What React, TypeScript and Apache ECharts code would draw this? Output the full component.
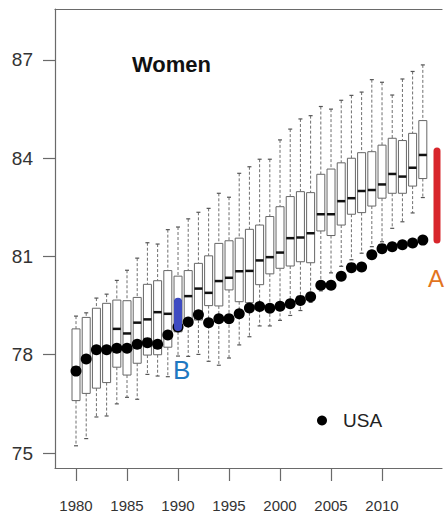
import React, { useEffect, useRef } from "react";
import * as echarts from "echarts";

// ---- data ----
const years = [
  1980, 1981, 1982, 1983, 1984, 1985, 1986, 1987, 1988, 1989,
  1990, 1991, 1992, 1993, 1994, 1995, 1996, 1997, 1998, 1999,
  2000, 2001, 2002, 2003, 2004, 2005, 2006, 2007, 2008, 2009,
  2010, 2011, 2012, 2013, 2014,
];
const whiskerLow = [
  75.22, 75.44, 76.1, 76.13, 76.5, 76.7, 76.64, 77.4, 77.35, 77.33,
  77.96, 77.95, 78.01, 77.8, 77.68, 77.9, 78.3, 78.55, 78.88, 78.88,
  79.05, 79.2, 79.35, 79.6, 79.95, 80.5, 80.7, 80.9, 81.1, 81.3,
  81.45, 81.86, 82.06, 82.33, 82.8,
];
const q1 = [
  76.6, 76.82, 76.98, 77.15, 77.62, 77.38, 77.74, 77.99, 78.0, 78.23,
  78.7, 78.91, 79.06, 79.5, 79.49, 79.98, 79.62, 79.59, 80.14, 80.47,
  80.64, 80.71, 80.84, 80.81, 81.78, 81.64, 81.96, 82.29, 82.34, 82.54,
  82.78, 82.93, 82.93, 83.15, 83.38,
];
const median = [
  77.6, 77.9, 78.12, 78.1, 78.79, 78.65, 78.98, 79.08, 79.3, 79.25,
  79.62, 79.79, 80.02, 79.89, 80.25, 80.35, 80.55, 80.56, 80.88, 80.98,
  81.12, 81.56, 81.58, 81.71, 82.29, 82.29, 82.69, 82.78, 83.0, 83.03,
  83.2, 83.52, 83.44, 83.71, 84.1,
];
const q3 = [
  78.79, 79.14, 79.42, 79.57, 79.67, 79.65, 79.75, 80.15, 80.26, 80.57,
  80.4, 80.57, 80.79, 81.02, 81.4, 81.48, 81.56, 81.83, 81.96, 82.22,
  82.52, 82.83, 82.98, 82.95, 83.51, 83.67, 83.86, 84.0, 84.17, 84.2,
  84.4, 84.61, 84.54, 84.76, 85.15,
];
const whiskerHigh = [
  79.18, 79.28, 79.73, 79.85, 80.27, 80.58, 80.95, 81.42, 81.38, 81.82,
  81.9, 82.15, 82.35, 82.47, 82.93, 82.81, 83.54, 83.74, 83.97, 83.97,
  84.56, 84.89, 85.2, 85.3, 85.58, 85.5, 85.77, 85.92, 86.02, 86.4,
  86.32, 85.93, 86.42, 86.65, 86.85,
];
const usa = [
  77.5, 77.87, 78.15, 78.15, 78.2, 78.2, 78.32, 78.37, 78.32, 78.6,
  78.85, 79.0, 79.22, 78.98, 79.1, 79.1, 79.25, 79.43, 79.47, 79.42,
  79.48, 79.56, 79.66, 79.77, 80.12, 80.12, 80.4, 80.66, 80.68, 81.05,
  81.24, 81.3, 81.36, 81.41, 81.5,
];
const yTicks = [75, 78, 81, 84, 87];
const xTicks = [1980, 1985, 1990, 1995, 2000, 2005, 2010];

// annotation gaps
const gapBYear = 1990;
const gapAYear = 2015.39;
const gapATop = 84.22;

const FONT = "'Liberation Sans', Arial, Helvetica, sans-serif";

export default function App() {
  const ref = useRef<HTMLDivElement>(null);

  useEffect(() => {
    const chart = echarts.init(ref.current!, null, { renderer: "svg" });
    const idxB = years.indexOf(gapBYear);
    const last = years.length - 1;

    const boxData = years.map((y, i) => [
      y, whiskerLow[i], q1[i], median[i], q3[i], whiskerHigh[i],
    ]);

    const option: any = {
      animation: false,
      backgroundColor: "#fff",
      textStyle: { fontFamily: FONT },
      title: {
        text: "Women",
        left: 127,
        top: 48,
        textStyle: { fontSize: 22, fontWeight: "bold", color: "#111", fontFamily: FONT },
      },
      legend: {
        data: ["USA"],
        left: 312,
        top: 406,
        icon: "circle",
        itemWidth: 10,
        itemHeight: 10,
        itemStyle: { color: "#000", opacity: 1 },
        textStyle: { fontSize: 19, color: "#222", fontFamily: FONT, padding: [0, 0, 0, 11] },
      },
      grid: { left: 55, right: 6, top: 9, bottom: 48, containLabel: false },
      xAxis: [
        {
          type: "value",
          min: 1977.94,
          max: 2015.88,
          splitLine: { show: false },
          axisLine: { show: true, lineStyle: { color: "#6a6a6a", width: 1.2 } },
          axisTick: { show: true, customValues: xTicks, length: 13, lineStyle: { color: "#6a6a6a", width: 1.2 } },
          axisLabel: {
            customValues: xTicks,
            margin: 30,
            fontSize: 15,
            color: "#333",
            fontFamily: FONT,
            formatter: (v: number) => String(Math.round(v)),
          },
        },
        {
          type: "value",
          position: "top",
          min: 1977.94,
          max: 2015.88,
          splitLine: { show: false },
          axisLine: { show: true, lineStyle: { color: "#6a6a6a", width: 1.2 } },
          axisTick: { show: false },
          axisLabel: { show: false },
        },
      ],
      yAxis: {
        type: "value",
        min: 74.542,
        max: 88.557,
        splitLine: { show: false },
        axisLine: { show: true, lineStyle: { color: "#6a6a6a", width: 1.2 } },
        axisTick: { show: true, customValues: yTicks, length: 12, lineStyle: { color: "#6a6a6a", width: 1.2 } },
        axisLabel: {
          customValues: yTicks,
          margin: 22,
          fontSize: 19,
          color: "#333",
          fontFamily: FONT,
          formatter: (v: number) => String(Math.round(v)),
        },
      },
      series: [
        {
          type: "custom",
          name: "countries",
          xAxisIndex: 0,
          yAxisIndex: 0,
          data: boxData,
          encode: { x: 0, y: [1, 2, 3, 4, 5] },
          z: 2,
          renderItem: (params: any, api: any) => {
            const x = api.value(0);
            const lo = api.coord([x, api.value(1)]);
            const b1 = api.coord([x, api.value(2)]);
            const md = api.coord([x, api.value(3)]);
            const b3 = api.coord([x, api.value(4)]);
            const hi = api.coord([x, api.value(5)]);
            const hw = 4;
            const cw = 2;
            const wStyle = { stroke: "#6f6f6f", lineWidth: 1, lineDash: [3, 2] };
            const cStyle = { stroke: "#555", lineWidth: 1.2 };
            return {
              type: "group",
              children: [
                { type: "line", shape: { x1: hi[0], y1: hi[1], x2: b3[0], y2: b3[1] }, style: wStyle },
                { type: "line", shape: { x1: b1[0], y1: b1[1], x2: lo[0], y2: lo[1] }, style: wStyle },
                { type: "line", shape: { x1: hi[0] - cw, y1: hi[1], x2: hi[0] + cw, y2: hi[1] }, style: cStyle },
                { type: "line", shape: { x1: lo[0] - cw, y1: lo[1], x2: lo[0] + cw, y2: lo[1] }, style: cStyle },
                {
                  type: "rect",
                  shape: { x: b3[0] - hw, y: b3[1], width: hw * 2, height: b1[1] - b3[1] },
                  style: { fill: "#fff", stroke: "#666", lineWidth: 1 },
                },
                {
                  type: "line",
                  shape: { x1: md[0] - hw, y1: md[1], x2: md[0] + hw, y2: md[1] },
                  style: { stroke: "#111", lineWidth: 2.5 },
                },
              ],
            };
          },
        },
        {
          type: "scatter",
          name: "USA",
          data: years.map((y, i) => [y, usa[i]]),
          symbol: "circle",
          symbolSize: 11,
          itemStyle: { color: "#000", opacity: 1 },
          z: 3,
        },
        {
          type: "line",
          name: "gapB",
          data: [[gapBYear, usa[idxB]], [gapBYear, median[idxB]]],
          symbol: "none",
          lineStyle: { color: "#3e4bc2", width: 8, cap: "round" },
          z: 4,
        },
        {
          type: "line",
          name: "gapA",
          data: [[gapAYear, usa[last]], [gapAYear, gapATop]],
          symbol: "none",
          lineStyle: { color: "#d8262c", width: 7, cap: "round" },
          z: 4,
        },
      ],
      graphic: [
        {
          type: "text",
          left: 428,
          top: 266,
          style: { text: "A", fontSize: 24, fill: "#e2741e", fontFamily: FONT },
        },
        {
          type: "text",
          left: 173,
          top: 357,
          style: { text: "B", fontSize: 26, fill: "#1f78c1", fontFamily: FONT },
        },
      ],
    };

    chart.setOption(option);
    return () => chart.dispose();
  }, []);

  return (
    <div
      ref={ref}
      style={{ position: "fixed", left: 0, top: 0, width: 448, height: 516 }}
    />
  );
}
